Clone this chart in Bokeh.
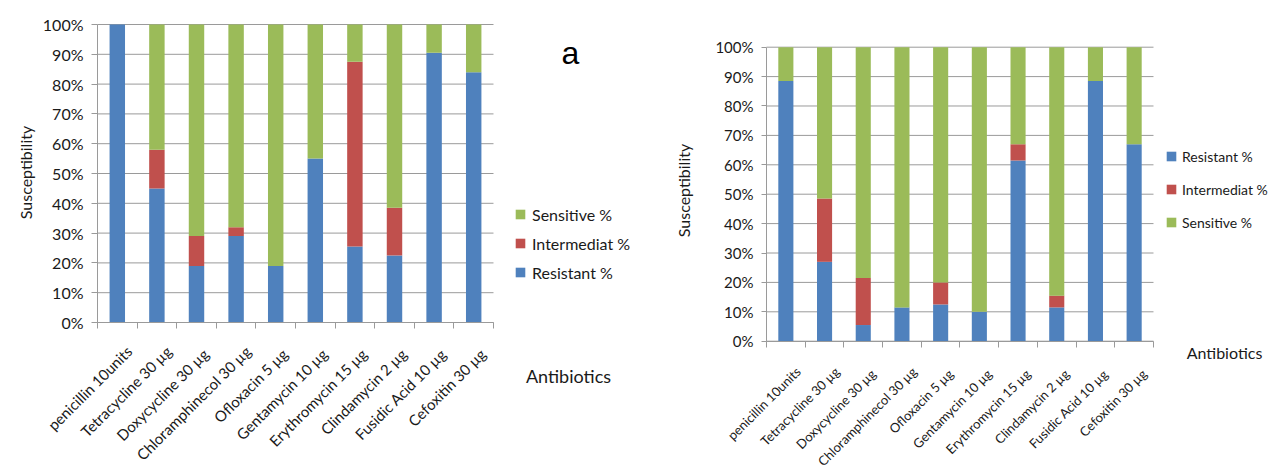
import math
from bokeh.plotting import figure
from bokeh.models import (ColumnDataSource, FixedTicker, PrintfTickFormatter,
                          Legend, LegendItem, Label, Range1d)
from bokeh.layouts import row
from bokeh.embed import file_html
from bokeh.resources import INLINE

categories = ["penicillin 10units", "Tetracycline 30 µg", "Doxycycline  30 µg",
              "Chloramphinecol 30 µg", "Ofloxacin  5 µg", "Gentamycin  10 µg",
              "Erythromycin  15 µg", "Clindamycin  2 µg", "Fusidic Acid  10 µg",
              "Cefoxitin  30 µg"]

left_resistant = [100, 45, 19, 29, 19, 55, 25.5, 22.5, 90.5, 84]
left_intermediate = [0, 13, 10, 3, 0, 0, 62, 16, 0, 0]
left_sensitive = [0, 42, 71, 68, 81, 45, 12.5, 61.5, 9.5, 16]

right_resistant = [88.5, 27, 5.5, 11.5, 12.5, 10, 61.5, 11.5, 88.5, 67]
right_intermediate = [0, 21.5, 16, 0, 7.5, 0, 5.5, 4, 0, 0]
right_sensitive = [11.5, 51.5, 78.5, 88.5, 80, 90, 33, 84.5, 11.5, 33]

series_names = ["Resistant %", "Intermediat %", "Sensitive %"]
colors = ["#4F81BD", "#C0504D", "#9BBB59"]
y_ticks = [0, 10, 20, 30, 40, 50, 60, 70, 80, 90, 100]

FONT = "Lato"
GRID = "#9a9a9a"
TEXT = "#1a1a1a"
H = 476


def make_chart(res, inter, sens, width, x_view, y_view, label_shift,
               xtick_fs, ytick_fs, ytitle_fs, ytitle_xy, tick_out, xstand):
    n = len(categories)
    centers = [i + 0.5 for i in range(n)]
    label_pos = [c + label_shift for c in centers]
    bounds = list(range(n + 1))
    src = ColumnDataSource(dict(x=centers, r=res, m=inter, s=sens))
    p = figure(width=width, height=H, title=None,
               x_range=Range1d(*x_view), y_range=Range1d(*y_view),
               output_backend="svg", toolbar_location=None,
               min_border_left=0, min_border_right=0,
               min_border_top=0, min_border_bottom=0)
    p.outline_line_color = None
    p.xgrid.visible = False
    p.ygrid.visible = False
    # horizontal gridlines over the category extent only
    p.segment(x0=[0] * len(y_ticks), x1=[n] * len(y_ticks), y0=y_ticks, y1=y_ticks,
              line_color=GRID, line_width=1)
    p.vbar_stack(["r", "m", "s"], x="x", width=0.39, color=colors,
                 line_color=None, source=src)

    xa = p.xaxis[0]
    xa.fixed_location = 0
    xa.bounds = (0, n)
    xa.ticker = FixedTicker(ticks=label_pos, minor_ticks=bounds)
    xa.major_label_overrides = {c: lab for c, lab in zip(label_pos, categories)}
    xa.major_label_orientation = 0.785
    xa.major_tick_out = 0
    xa.major_tick_in = 0
    xa.minor_tick_out = 6
    xa.minor_tick_in = 0
    xa.minor_tick_line_color = GRID
    xa.axis_line_color = GRID
    xa.major_label_text_font = FONT
    xa.major_label_text_font_size = f"{xtick_fs}px"
    xa.major_label_text_color = TEXT
    xa.major_label_standoff = xstand

    ya = p.yaxis[0]
    ya.fixed_location = 0
    ya.bounds = (0, 100)
    ya.ticker = FixedTicker(ticks=y_ticks)
    ya.formatter = PrintfTickFormatter(format="%d%%")
    ya.major_tick_out = tick_out
    ya.major_tick_in = 0
    ya.minor_tick_out = 0
    ya.minor_tick_in = 0
    ya.major_tick_line_color = GRID
    ya.axis_line_color = GRID
    ya.major_label_text_font = FONT
    ya.major_label_text_font_size = f"{ytick_fs}px"
    ya.major_label_text_color = TEXT
    ya.major_label_standoff = 8

    p.add_layout(Label(x=ytitle_xy[0], y=ytitle_xy[1], x_units="screen", y_units="screen",
                       text="Susceptibility", angle=math.pi / 2, text_font=FONT,
                       text_font_size=f"{ytitle_fs}px", text_color=TEXT,
                       text_align="center", text_baseline="middle"))
    return p


def make_annex(width, leg_loc, leg_fs, leg_spacing, leg_order,
               ant_xy, ant_fs, standoff):
    a = figure(width=width, height=H, title=None,
               x_range=Range1d(0, 1), y_range=Range1d(0, 1),
               x_axis_type=None, y_axis_type=None,
               min_border_left=0, min_border_right=0,
               min_border_top=0, min_border_bottom=0,
               output_backend="svg", toolbar_location=None)
    a.outline_line_color = None
    # zero-height legend proxies (nothing visible is drawn by them)
    proxies = [a.vbar(x=[0.5], top=[0], bottom=[0], width=0.1,
                      fill_color=c, line_color=None) for c in colors]
    items = [LegendItem(label=series_names[i], renderers=[proxies[i]]) for i in leg_order]
    leg = Legend(items=items, location=leg_loc, orientation="vertical",
                 spacing=leg_spacing, padding=0, margin=0,
                 glyph_width=12, glyph_height=12, label_height=20,
                 label_standoff=standoff, label_text_font=FONT,
                 label_text_font_size=f"{leg_fs}px", label_text_color=TEXT,
                 border_line_color=None, background_fill_alpha=0)
    a.add_layout(leg, "center")
    a.add_layout(Label(x=ant_xy[0], y=ant_xy[1], x_units="screen", y_units="screen",
                       text="Antibiotics", text_font=FONT,
                       text_font_size=f"{ant_fs}px", text_color=TEXT,
                       text_align="center", text_baseline="middle"))
    return a


# visible windows of each chart (axes sit where the reference puts them)
left_xview = (-2.4495, 10.1768)
left_yview = (-51.678, 108.054)
right_xview = (-2.9974, 10.1809)
right_yview = (-46.02, 115.884)

p1 = make_chart(left_resistant, left_intermediate, left_sensitive,
                500, left_xview, left_yview, 0.3,
                xtick_fs=15, ytick_fs=16, ytitle_fs=16, ytitle_xy=(25, 304),
                tick_out=6, xstand=20)
a1 = make_annex(150, leg_loc=(14, 194), leg_fs=16, leg_spacing=9,
                leg_order=[2, 1, 0], ant_xy=(68, 101), ant_fs=18, standoff=6)
a1.add_layout(Label(x=70, y=424, x_units="screen", y_units="screen", text="a",
                    text_font="Liberation Sans", text_font_size="32px",
                    text_color="black", text_align="center", text_baseline="middle"))

p2 = make_chart(right_resistant, right_intermediate, right_sensitive,
                510, right_xview, right_yview, 0.32,
                xtick_fs=13, ytick_fs=15, ytitle_fs=16, ytitle_xy=(33, 286),
                tick_out=5, xstand=22)
a2 = make_annex(114, leg_loc=(5, 244), leg_fs=14, leg_spacing=13,
                leg_order=[0, 1, 2], ant_xy=(64, 124), ant_fs=16, standoff=5)

layout = row(p1, a1, p2, a2)
open("out.html", "w").write(file_html(layout, INLINE))
